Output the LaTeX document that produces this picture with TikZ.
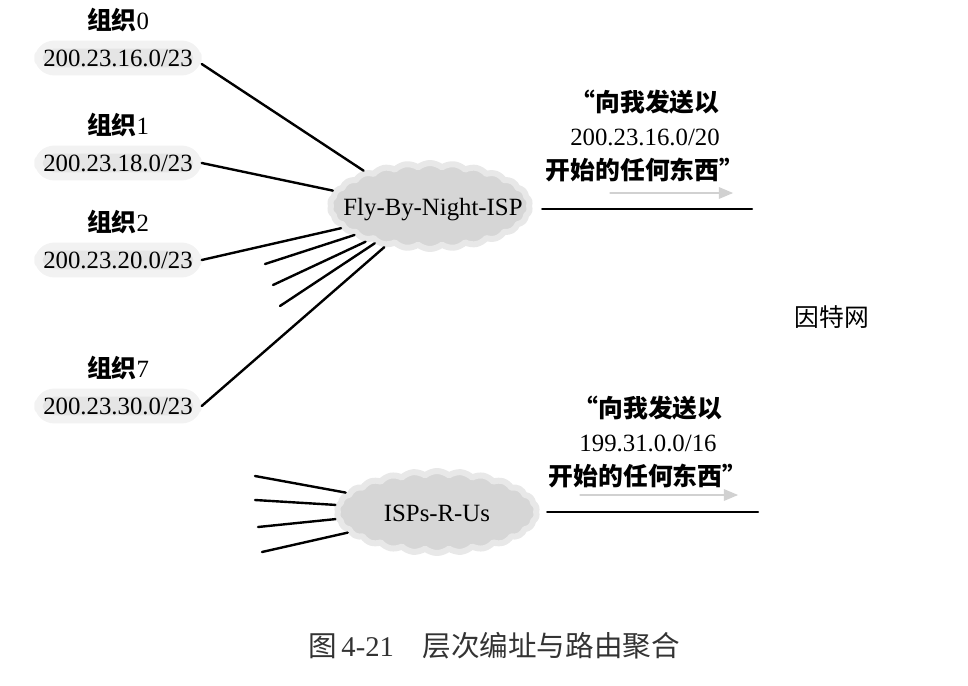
\documentclass[tikz,border=0pt]{standalone}
\usepackage{fontspec}
\setmainfont{Liberation Serif}
\newfontfamily\cjk{Noto Sans CJK SC}
\usetikzlibrary{arrows,shapes.symbols}

\begin{document}
\begin{tikzpicture}[line cap=round,line join=round,>=triangle 45,x=0.5pt,y=-0.5pt,
  wire/.style={line width=1.2pt},
  addr/.style={fill=black!10,draw=black!5,line width=4pt,rounded corners=8pt,inner sep=2.5pt,font=\fontsize{12.4}{14}\selectfont},
  orglbl/.style={font=\fontsize{12.4}{14}\selectfont},
  isp/.style={cloud,cloud puffs=26,cloud puff arc=80,cloud ignores aspect,fill=black!16,draw=black!9,line width=3pt,inner sep=0pt},
  msg/.style={align=center,font=\fontsize{12.4}{17}\selectfont},
  hint/.style={->,color=black!18,line width=0.6pt}]
\useasboundingbox (0,0) rectangle (968,685);
% clouds
\node[isp,minimum width=100pt,minimum height=43pt] (fbn) at (430,206) {};
\node[orglbl] (fbnlbl) at (433,210) {Fly-By-Night-ISP};
\node[isp,minimum width=100pt,minimum height=41pt] (isr) at (437,512) {};
\node[orglbl] (isrlbl) at (437,513) {ISPs-R-Us};
% organisations
\foreach \n/\y/\ip in {0/58/16,1/163/18,2/260/20,7/406/30}{
  \node[addr] (ip\n) at (118,\y) {200.23.\ip.0/23};
  \node[orglbl] (org\n) at (118,\y-38) {{\cjk\bfseries 组织}\n};
}
\draw[wire] ([yshift=-3pt]ip0.east) -- (fbn.152);
\draw[wire] (ip1.east) -- (fbn.171);
\draw[wire] (ip2.east) -- (fbn.194);
\draw[wire] (ip7.east) -- (fbn.222);
\foreach \a/\x/\y in {201/265/264,209/273/285,214/280/306}{
  \coordinate (fs\a) at (\x,\y);
  \draw[wire] (fs\a) -- (fbn.\a);
}
\foreach \a/\x/\y in {168/255/476,176/255/500,184/258/527,193/262/552}{
  \coordinate (rs\a) at (\x,\y);
  \draw[wire] (rs\a) -- (isr.\a);
}
% towards the internet
\coordinate (net1) at (752,209);
\coordinate (net2) at (758,512);
\draw[wire] (net1 -| fbn.east) ++(10,0) -- (net1);
\draw[wire] (net2 -| isr.east) ++(8,0) -- (net2);
\node[msg] (msg1) at (645,136) {{\cjk\bfseries “向我发送以}\\200.23.16.0/20\\{\cjk\bfseries 开始的任何东西”}};
\node[msg] (msg2) at (648,442) {{\cjk\bfseries “向我发送以}\\199.31.0.0/16\\{\cjk\bfseries 开始的任何东西”}};
\coordinate (h1a) at (610,193);
\coordinate (h1b) at (733,193);
\coordinate (h2a) at (580,495);
\coordinate (h2b) at (738,495);
\draw[hint] (h1a) -- (h1b);
\draw[hint] (h2a) -- (h2b);
\node[orglbl] (inet) at (832,317) {{\cjk 因特网}};
% caption
\node[font=\fontsize{14.3}{16}\selectfont,color=black!80] (cap) at (494,646) {{\cjk 图}\,4-21\quad{\cjk 层次编址与路由聚合}};
\end{tikzpicture}
\end{document}
